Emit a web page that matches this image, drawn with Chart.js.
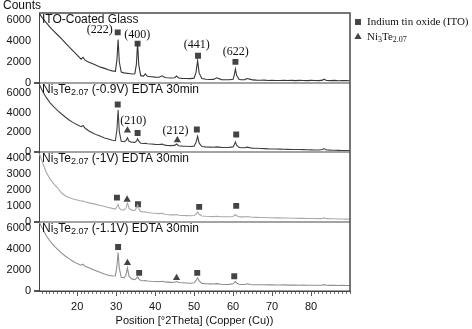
<!DOCTYPE html>
<html>
<head>
<meta charset="utf-8">
<title>XRD patterns</title>
<script src="https://cdn.jsdelivr.net/npm/chart.js@4.4.1/dist/chart.umd.min.js"></script>
<style>
  body { margin: 0; background: #fff; }
  #wrap { width: 472px; height: 329px; }
</style>
</head>
<body>
<div id="wrap"><canvas id="xrd" width="472" height="329"></canvas></div>
<script>
// 2theta positions (degrees), shared by the four scans
var twoTheta = [
  10.3, 11, 12, 13, 14, 15, 16, 17, 18, 19,
  20, 21, 21.5, 22, 23, 24, 25, 26, 27, 28,
  29, 29.8, 30.2, 30.5, 30.8, 31.3, 32, 32.5, 32.9, 33.3,
  34, 34.8, 35.2, 35.5, 35.8, 36.3, 37, 37.5, 38, 39,
  40, 41, 41.8, 42.5, 43, 44, 45, 45.5, 46, 47,
  48, 49, 50, 50.5, 50.9, 51.3, 52, 53, 54, 55,
  55.8, 57, 58, 59, 60, 60.3, 60.6, 60.9, 61.5, 62,
  63, 63.6, 64.5, 65, 66, 67, 68, 69, 70, 71,
  72, 73, 74, 75, 76, 77, 78, 79, 80, 81,
  82, 83, 83.3, 84, 85, 86, 87, 88, 89, 89.9
]

// counts, top panel to bottom panel
var itoGlass = [
  6650, 6250, 5800, 5330, 4950, 4580, 4200, 3800, 3400, 3030,
  2650, 2250, 2420, 2150, 1950, 1800, 1640, 1480, 1360, 1230,
  1120, 1080, 2200, 4150, 2000, 1000, 930, 900, 880, 860,
  820, 850, 1800, 3850, 1700, 660, 620, 840, 600, 560,
  520, 500, 640, 480, 460, 440, 460, 620, 440, 400,
  380, 370, 420, 1000, 2100, 900, 380, 320, 290, 300,
  450, 280, 260, 260, 320, 700, 1300, 700, 300, 260,
  280, 380, 300, 250, 230, 220, 230, 200, 210, 200,
  190, 210, 190, 200, 180, 200, 190, 180, 200, 190,
  180, 230, 320, 200, 180, 200, 170, 190, 180, 170
]
var niTe09 = [
  6900, 6300, 5600, 5050, 4600, 4230, 3880, 3550, 3250, 3000,
  2780, 2580, 2700, 2450, 2150, 1950, 1750, 1600, 1440, 1320,
  1200, 1150, 2300, 4300, 2100, 1100, 1050, 1150, 1450, 1100,
  1000, 980, 1100, 1350, 1100, 900, 870, 900, 840, 810,
  780, 760, 800, 700, 680, 650, 680, 820, 640, 600,
  580, 560, 600, 1000, 1600, 900, 560, 520, 500, 480,
  520, 470, 460, 470, 520, 750, 1030, 700, 480, 430,
  440, 500, 420, 400, 380, 360, 340, 320, 310, 300,
  290, 280, 270, 260, 250, 250, 240, 230, 220, 210,
  200, 260, 350, 210, 190, 180, 170, 160, 150, 150
]
var niTe10 = [
  4300, 3800, 3150, 2700, 2380, 2120, 1800, 1620, 1500, 1420,
  1360, 1300, 1290, 1250, 1180, 1130, 1070, 1010, 950, 890,
  830, 790, 950, 1080, 850, 740, 720, 850, 1180, 850,
  720, 700, 850, 1050, 800, 640, 600, 620, 570, 540,
  520, 500, 520, 460, 440, 420, 420, 440, 400, 380,
  370, 360, 380, 470, 600, 460, 350, 330, 320, 310,
  330, 300, 300, 300, 320, 380, 440, 360, 300, 290,
  290, 320, 280, 270, 260, 250, 250, 240, 240, 230,
  230, 220, 220, 210, 210, 200, 200, 190, 190, 190,
  180, 200, 230, 180, 170, 170, 160, 160, 150, 150
]
var niTe11 = [
  6500, 6000, 5300, 4750, 4300, 3950, 3600, 3300, 3050, 2800,
  2600, 2450, 2550, 2350, 2200, 2050, 1900, 1750, 1620, 1500,
  1420, 1450, 2400, 3650, 2200, 1300, 1250, 1500, 2200, 1400,
  1150, 1080, 1200, 1350, 1150, 1000, 980, 1000, 950, 920,
  900, 880, 920, 850, 840, 820, 830, 900, 800, 780,
  760, 740, 780, 1000, 1250, 950, 720, 690, 680, 660,
  700, 640, 620, 630, 680, 800, 900, 760, 640, 620,
  620, 680, 620, 600, 600, 590, 590, 580, 580, 570,
  570, 580, 560, 560, 560, 550, 560, 550, 550, 540,
  540, 560, 600, 540, 530, 540, 520, 530, 520, 520
]

var panelMax = [6700, 7100, 4400, 6600]
var panelTicks = [
  [0, 2000, 4000, 6000],
  [0, 2000, 4000, 6000],
  [0, 1000, 2000, 3000, 4000],
  [0, 2000, 4000, 6000]
]
var xTickLabels = [20, 30, 40, 50, 60, 70, 80]

// phase markers per panel: ITO squares and Ni3Te2.07 triangles
var squareX = [[30.4, 35.5, 51.0, 60.6], [30.4, 35.5, 50.7, 60.8], [30.2, 35.6, 51.3, 60.8], [30.5, 35.9, 50.8, 60.3]]
var squareY = [[4830, 3750, 2580, 1990], [4860, 1950, 2300, 1790], [1510, 1090, 925, 990], [4170, 1720, 1720, 1400]]
var triangleX = [[], [32.9, 45.7], [32.8], [32.9, 45.5]]
var triangleY = [[], [2200, 1200], [1390], [2660, 1240]]

// Miller index labels
var hklText = ['(222)', '(400)', '(441)', '(622)', '(210)', '(212)']
var hklPanel = [0, 0, 0, 0, 1, 1]
var hklX = [25.8, 35.4, 50.7, 60.7, 34.4, 45.2]
var hklY = [5100, 4600, 3630, 2970, 3220, 2200]

var scans = [itoGlass, niTe09, niTe10, niTe11]
var axisIds = ['yIto', 'y09', 'y10', 'y11']
var lineColours = ['#363636', '#404040', '#a9a9a9', '#8e8e8e']
var markColour = '#444444'
var panelNames = [
  [['ITO-Coated Glass']],
  [['Ni'], ['3', 1], ['Te'], ['2.07', 1], [' (-0.9V) EDTA 30min']],
  [['Ni'], ['3', 1], ['Te'], ['2.07', 1], [' (-1V) EDTA 30min']],
  [['Ni'], ['3', 1], ['Te'], ['2.07', 1], [' (-1.1V) EDTA 30min']]
]

var sans = '"Liberation Sans", Arial, sans-serif'
var serif = '"Liberation Serif", "Times New Roman", serif'

function drawRich (ctx, parts, x, y, size, family) {
  parts.forEach(function (p) {
    var sub = p[1]
    ctx.font = (sub ? Math.round(size * 0.72) : size) + 'px ' + family
    ctx.fillText(p[0], x, sub ? y + size * 0.22 : y)
    x += ctx.measureText(p[0]).width
  })
}

function panelAxis (i) {
  return {
    type: 'linear',
    position: 'left',
    stack: 'xrd',
    stackWeight: 1,
    min: 0,
    max: panelMax[i],
    afterBuildTicks: function (scale) {
      scale.ticks = panelTicks[i].map(function (v) { return { value: v } })
    },
    afterFit: function (scale) { scale.width = 39 },
    border: { color: '#444', width: 1 },
    grid: {
      color: function (c) { return c.tick && c.tick.value === 0 ? '#a3a3a3' : 'rgba(0,0,0,0)' },
      lineWidth: function (c) { return c.tick && c.tick.value === 0 ? 2 : 0 },
      tickColor: '#555',
      tickLength: 5
    },
    ticks: {
      autoSkip: false,
      color: '#111',
      padding: 3,
      font: { size: 11 },
      callback: function (v) { return String(v) }
    }
  }
}

var datasets = []
scans.forEach(function (ys, i) {
  datasets.push({
    type: 'line',
    data: twoTheta.map(function (x, j) { return { x: x, y: ys[j] } }),
    yAxisID: axisIds[i],
    borderColor: lineColours[i],
    borderWidth: 1.1,
    pointRadius: 0,
    tension: 0
  })
  datasets.push({
    type: 'scatter',
    data: squareX[i].map(function (x, j) { return { x: x, y: squareY[i][j] } }),
    yAxisID: axisIds[i],
    pointStyle: 'rect',
    pointRadius: 4.2,
    backgroundColor: markColour,
    borderWidth: 0
  })
  datasets.push({
    type: 'scatter',
    data: triangleX[i].map(function (x, j) { return { x: x, y: triangleY[i][j] } }),
    yAxisID: axisIds[i],
    pointStyle: 'triangle',
    pointRadius: 4.2,
    backgroundColor: markColour,
    borderWidth: 0
  })
})

var scales = {
  x: {
    type: 'linear',
    min: 10.2,
    max: 90,
    afterFit: function (scale) { scale.height = 38 },
    border: { color: '#444', width: 1 },
    grid: { drawOnChartArea: false, tickColor: '#777', tickLength: 3 },
    ticks: {
      stepSize: 1,
      includeBounds: false,
      autoSkip: false,
      maxRotation: 0,
      padding: 6,
      color: '#111',
      font: { size: 11 },
      callback: function (v) { return xTickLabels.indexOf(v) >= 0 ? String(v) : '' }
    },
    title: {
      display: true,
      text: 'Position [°2Theta] (Copper (Cu))',
      color: '#111',
      font: { size: 11 },
      padding: { top: 0, bottom: 1 }
    }
  }
}
// later scales stack higher, so add the bottom panel first
for (var k = axisIds.length - 1; k >= 0; k--) scales[axisIds[k]] = panelAxis(k)

var decorations = {
  id: 'decorations',
  afterDraw: function (chart) {
    var ctx = chart.ctx
    var area = chart.chartArea
    var xs = chart.scales.x
    ctx.save()

    // frame on top and right
    ctx.strokeStyle = '#4a4a4a'
    ctx.lineWidth = 1.5
    ctx.beginPath()
    ctx.moveTo(area.left, area.top)
    ctx.lineTo(area.right, area.top)
    ctx.lineTo(area.right, area.bottom)
    ctx.stroke()

    // longer ticks at labelled positions
    ctx.lineWidth = 1
    ctx.strokeStyle = '#555'
    xTickLabels.forEach(function (v) {
      var px = Math.round(xs.getPixelForValue(v)) + 0.5
      ctx.beginPath()
      ctx.moveTo(px, area.bottom)
      ctx.lineTo(px, area.bottom + 5)
      ctx.stroke()
    })

    ctx.fillStyle = '#111'
    ctx.textBaseline = 'middle'
    ctx.textAlign = 'left'
    ctx.font = '12px ' + sans
    ctx.fillText('Counts', 3, 6)

    // panel names
    axisIds.forEach(function (id, i) {
      var ys = chart.scales[id]
      drawRich(ctx, panelNames[i], area.left + 3, ys.top + 7, 12, sans)
    })

    // Miller indices
    ctx.textAlign = 'center'
    ctx.font = '12px ' + serif
    hklText.forEach(function (t, i) {
      var ys = chart.scales[axisIds[hklPanel[i]]]
      ctx.fillText(t, xs.getPixelForValue(hklX[i]), ys.getPixelForValue(hklY[i]))
    })

    // legend
    ctx.textAlign = 'left'
    ctx.fillStyle = markColour
    Chart.helpers.drawPoint(ctx, { pointStyle: 'rect', radius: 4.2, rotation: 0, borderWidth: 0 }, 358, 22)
    Chart.helpers.drawPoint(ctx, { pointStyle: 'triangle', radius: 4.2, rotation: 0, borderWidth: 0 }, 358, 37)
    ctx.fillStyle = '#111'
    drawRich(ctx, [['Indium tin oxide (ITO)']], 367, 22, 11, serif)
    drawRich(ctx, [['Ni'], ['3', 1], ['Te'], ['2.07', 1]], 367, 37, 11, serif)
    ctx.restore()
  }
}

Chart.defaults.font.family = sans
Chart.defaults.color = '#111'

new Chart(document.getElementById('xrd'), {
  data: { datasets: datasets },
  options: {
    responsive: false,
    animation: false,
    layout: { padding: { top: 13, right: 122, left: 0, bottom: 0 } },
    plugins: { legend: { display: false }, tooltip: { enabled: false } },
    scales: scales
  },
  plugins: [decorations]
})
</script>
</body>
</html>
